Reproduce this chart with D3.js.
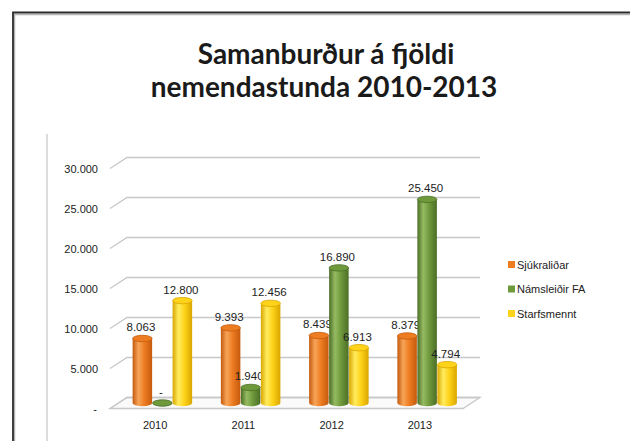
<!DOCTYPE html>
<html>
<head>
<meta charset="utf-8">
<script src="https://cdn.jsdelivr.net/npm/d3@7"></script>
<style>
  body { margin: 0; background: #fff; }
  svg { display: block; }
</style>
</head>
<body>
<div id="chart"></div>
<script>
// Chart data
const years = ["2010", "2011", "2012", "2013"];
const seriesNames = ["Sjúkraliðar", "Námsleiðir FA", "Starfsmennt"];
const sjukralidar = [8063, 9393, 8439, 8379];
const namsleidir = [0, 1940, 16890, 25450];
const starfsmennt = [12800, 12456, 6913, 4794];
const yTicks = [0, 5000, 10000, 15000, 20000, 25000, 30000];

const seriesValues = [sjukralidar, namsleidir, starfsmennt];
const colors = [
    { base: "#ee7d22", dark: "#c45a0e", light: "#f7a458" },
    { base: "#6f9a3c", dark: "#4b6e26", light: "#96bb62" },
    { base: "#ffd31a", dark: "#d9a600", light: "#ffec5e" }
];

const width = 630, height = 441;
const svg = d3.select("#chart").append("svg")
    .attr("width", width)
    .attr("height", height)
    .style("font-family", "'Liberation Sans', Arial, sans-serif");

// slide frame
svg.append("path")
    .attr("d", `M14.5,${height} V14.5 H${width}`)
    .attr("fill", "none").attr("stroke", "#b5b5b5").attr("stroke-width", 1.5);
svg.append("path")
    .attr("d", `M13,${height} V12.5 H${width}`)
    .attr("fill", "none").attr("stroke", "#2b2b2b").attr("stroke-width", 1.8);

// title
const title = svg.append("text")
    .attr("text-anchor", "middle")
    .style("font-family", "Lato, 'Noto Sans', sans-serif")
    .style("font-weight", 700)
    .style("font-size", "28px")
    .attr("fill", "#1a1a1a");
title.append("tspan").attr("x", 326).attr("y", 64).text("Samanburður á fjöldi");
title.append("tspan").attr("x", 324).attr("y", 97).text("nemendastunda 2010-2013");

// left gray rule
svg.append("line")
    .attr("x1", 47).attr("x2", 47).attr("y1", 134).attr("y2", height)
    .attr("stroke", "#c4c4c4").attr("stroke-width", 1.2);

// 3D geometry: front plane + depth offset
const depthX = 17, depthY = -11;
const x0 = d3.scaleBand().domain(years).range([110, 463]).paddingInner(0.32).paddingOuter(0.16);
const x1 = d3.scaleBand().domain(d3.range(3)).range([0, x0.bandwidth()]);
const y = d3.scaleLinear().domain([0, 30000]).range([408.5, 168.5]);

const grid = svg.append("g");
// floor
grid.append("path")
    .attr("d", `M110,${y(0)} L463,${y(0)} L${463 + depthX},${y(0) + depthY} L${110 + depthX},${y(0) + depthY} Z`)
    .attr("fill", "#fafafa").attr("stroke", "#c8c8c8").attr("stroke-width", 1.3);
// back wall lines and side wall diagonals
yTicks.forEach(t => {
    const yf = y(t), yb = y(t) + depthY;
    grid.append("path")
        .attr("d", `M110,${yf} L${110 + depthX},${yb} L${463 + depthX},${yb}`)
        .attr("fill", "none").attr("stroke", "#c8c8c8").attr("stroke-width", 1.3);
});

// y tick labels
const fmt = d3.formatLocale({ decimal: ",", thousands: ".", grouping: [3], currency: ["", ""] }).format(",d");
const label = v => v === 0 ? "-" : fmt(v);

svg.append("g")
    .selectAll("text")
    .data(yTicks)
    .join("text")
    .attr("x", t => t === 0 ? 97 : 98)
    .attr("y", t => y(t) + 4)
    .attr("text-anchor", "end")
    .style("font-size", "11px")
    .attr("fill", "#222")
    .text(label);

// x labels
svg.append("g")
    .selectAll("text")
    .data(years)
    .join("text")
    .attr("x", d => x0(d) + x0.bandwidth() / 2 + 1)
    .attr("y", 428.5)
    .attr("text-anchor", "middle")
    .style("font-size", "11px")
    .attr("fill", "#222")
    .text(d => d);

// gradients for cylinders
const defs = svg.append("defs");
colors.forEach((c, i) => {
    const g = defs.append("linearGradient").attr("id", "cyl" + i)
        .attr("x1", "0%").attr("x2", "100%");
    g.append("stop").attr("offset", "0%").attr("stop-color", c.dark);
    g.append("stop").attr("offset", "30%").attr("stop-color", c.light);
    g.append("stop").attr("offset", "60%").attr("stop-color", c.base);
    g.append("stop").attr("offset", "100%").attr("stop-color", c.dark);
});

// bars as cylinders at mid depth
const bars = [];
years.forEach((yr, i) => {
    seriesValues.forEach((vals, s) => {
        bars.push({ year: yr, s: s, value: vals[i] });
    });
});

const bw = x1.bandwidth() - 0.5;
const ry = 3.2;
const midX = depthX / 2, midY = depthY / 2;

const bar = svg.append("g")
    .selectAll("g")
    .data(bars)
    .join("g")
    .attr("transform", d => `translate(${x0(d.year) + x1(d.s) + midX},${midY})`);

bar.append("path")
    .attr("d", d => {
        const top = y(d.value), bot = y(0);
        return `M0,${top} L0,${bot} A${bw / 2},${ry} 0 0 0 ${bw},${bot} L${bw},${top} Z`;
    })
    .attr("fill", d => `url(#cyl${d.s})`);

bar.append("ellipse")
    .attr("cx", bw / 2)
    .attr("cy", d => y(d.value))
    .attr("rx", bw / 2)
    .attr("ry", ry)
    .attr("fill", d => colors[d.s].base)
    .attr("stroke", d => colors[d.s].dark)
    .attr("stroke-width", 0.8);

// value labels
bar.append("text")
    .attr("x", bw / 2 - 1.5)
    .attr("y", d => y(d.value) - 7)
    .attr("text-anchor", "middle")
    .style("font-size", "11.5px")
    .attr("fill", "#222")
    .text(d => label(d.value));

// legend
const legend = svg.append("g")
    .selectAll("g")
    .data(seriesNames)
    .join("g")
    .attr("transform", (d, i) => `translate(508,${265 + i * 24.5})`);

legend.append("rect")
    .attr("x", 0).attr("y", -4)
    .attr("width", 7).attr("height", 7)
    .attr("fill", (d, i) => colors[i].base);

legend.append("text")
    .attr("x", 9)
    .attr("y", 3.5)
    .style("font-size", "11px")
    .attr("fill", "#222")
    .text(d => d);
</script>
</body>
</html>
